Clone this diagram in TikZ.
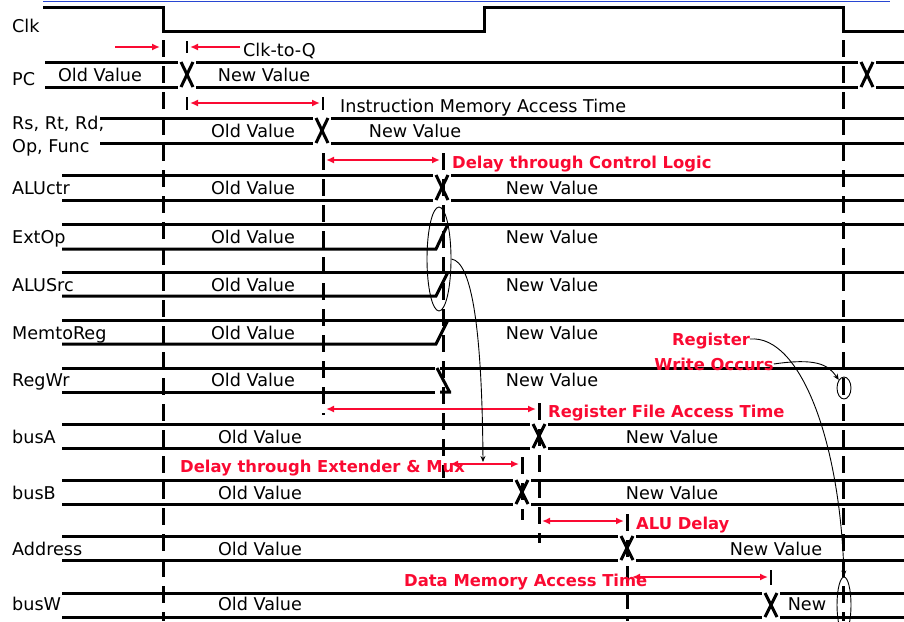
\documentclass[tikz,border=0pt]{standalone}
\usepackage{fontspec}
\setmainfont{DejaVu Sans}
\usepackage{xcolor}
\usetikzlibrary{arrows.meta, shapes.geometric}

\definecolor{delayred}{RGB}{250,10,50}
\definecolor{toprule}{RGB}{40,70,210}

\begin{document}
\begin{tikzpicture}[x=1pt, y=-1pt,
    sig/.style={line width=3pt},
    guide/.style={line width=3pt, dash pattern=on 17pt off 9pt},
    tickmark/.style={line width=2.4pt},
    delay/.style={delayred, line width=2pt, {Latex[length=8pt,width=7pt]}-{Latex[length=8pt,width=7pt]}},
    txt/.style={font=\fontsize{17.6}{17.6}\selectfont, inner sep=0pt, text height=12.6pt, text depth=0pt},
    note/.style={delayred, font=\fontsize{16.4}{16.4}\selectfont\bfseries, inner sep=0pt, text height=12pt, text depth=0pt},
    ring/.style={ellipse, draw, line width=0.9pt, inner sep=0pt},
    pointer/.style={line width=0.9pt, -{Stealth[length=6pt,width=5pt]}}]
  \useasboundingbox (0,0) rectangle (904,621);

  % Top rule and clock
  \draw[toprule, line width=1pt] (43,1) -- (890,1);
  \draw[sig] (43,7) -- (163,7) -- (163,31) -- (484,31) -- (484,7) -- (843,7) -- (843,31) -- (904,31);
  \draw[guide] (163,40) -- (163,621);
  \draw[guide] (843,40) -- (843,621);

  % Signal names
  \foreach \s/\y in {Clk/26, PC/79, ALUctr/188, ExtOp/237, ALUSrc/285, MemtoReg/333, RegWr/380, busA/437, busB/493, Address/549, busW/604}
    \node[txt, anchor=west] (name-\s) at (12,\y) {\s};
  \node[txt, anchor=west] (name-rs) at (12,123) {Rs, Rt, Rd,};
  \node[txt, anchor=west] (name-op) at (12,146) {Op, Func};

  % PC changes twice
  \draw[sig] (45,62) -- (178,62) (45,87) -- (178,87);
  \draw[sig] (196,62) -- (858,62) (196,87) -- (858,87);
  \draw[sig] (876,62) -- (904,62) (876,87) -- (904,87);
  \foreach \xt in {187, 867}
    \draw[sig] (\xt-6,62) -- (\xt+6,87) (\xt-6,87) -- (\xt+6,62);

  % Buses with one change
  \foreach \yt/\yb/\xs/\xt in {118/143/100/322, 175/200/62/442, 424/448/62/539, 480/504/62/522, 536/560/62/627, 593/617/62/771} {
    \draw[sig] (\xs,\yt) -- (\xt-9,\yt) (\xs,\yb) -- (\xt-9,\yb);
    \draw[sig] (\xt-6,\yt) -- (\xt+6,\yb) (\xt-6,\yb) -- (\xt+6,\yt);
    \draw[sig] (\xt+9,\yt) -- (904,\yt) (\xt+9,\yb) -- (904,\yb);
  }

  % Control signals going high
  \foreach \yt/\yb in {224/249, 272/296, 320/344} {
    \draw[sig] (62,\yt) -- (904,\yt);
    \draw[sig] (62,\yb) -- (436,\yb) -- (448,\yt);
  }
  \draw[sig] (62,368) -- (435,368) (440,368) -- (904,368);
  \draw[sig] (62,392) -- (435,392);
  \draw[sig] (437,368) -- (449,391) (440,392) -- (451,392);

  % Values
  \foreach \i/\x/\y in {1/100/75, 2/253/131, 3/253/188, 4/253/237, 5/253/285, 6/253/333, 7/253/380, 8/260/437, 9/260/493, 10/260/549, 11/260/604}
    \node[txt] (old-\i) at (\x,\y) {Old Value};
  \foreach \i/\x/\y in {1/264/75, 2/415/131, 3/552/188, 4/552/237, 5/552/285, 6/552/333, 7/552/380, 8/672/437, 9/672/493, 10/776/549}
    \node[txt] (new-\i) at (\x,\y) {New Value};
  \node[txt] (new-11) at (807,604) {New};

  % Partial guides and ticks
  \foreach \x/\ya/\yb in {323/153/415, 443/153/478, 539/403/543, 522/457/520, 627/514/621}
    \draw[guide] (\x,\ya) -- (\x,\yb);
  \foreach \x/\ya/\yb in {187/41/53, 187/97/110, 323/97/110, 771/570/585}
    \draw[tickmark] (\x,\ya) -- (\x,\yb);

  % Delay arrows
  \draw[delayred, line width=2pt, -{Latex[length=8pt,width=7pt]}] (115,47) -- (160,47);
  \draw[delayred, line width=2pt, -{Latex[length=8pt,width=7pt]}] (240,47) -- (190,47);
  \foreach \xa/\xb/\y in {190/320/103, 326/440/160, 326/536/409, 450/519/464, 542/624/521, 632/768/577}
    \draw[delay] (\xa,\y) -- (\xb,\y);

  % Delay names
  \node[txt, anchor=west] (clkq) at (243,50) {Clk-to-Q};
  \node[txt, anchor=west] (imem) at (340,106) {Instruction Memory Access Time};
  \node[note, anchor=west] (ctrl) at (452,162) {Delay through Control Logic};
  \node[note, anchor=west] (rfile) at (548,411) {Register File Access Time};
  \node[note, anchor=west] (extmux) at (180,466) {Delay through Extender \& Mux};
  \node[note, anchor=west] (aludelay) at (636,523) {ALU Delay};
  \node[note, anchor=west] (dmem) at (404,580) {Data Memory Access Time};
  \node[note] (regw1) at (711,339) {Register};
  \node[note] (regw2) at (714,364) {Write Occurs};

  % Rings and pointers
  \node[ring, minimum width=24, minimum height=104] (ctlring) at (439,259) {};
  \node[ring, minimum width=14, minimum height=22] (wrring) at (844,388) {};
  \node[ring, minimum width=14, minimum height=56] (busring) at (844,605) {};
  \coordinate (muxhit) at (483,462);
  \draw[pointer] (ctlring.east) .. controls (472,262) and (482,330) .. (muxhit);
  \draw[pointer] (regw1.east) .. controls (800,335) and (840,440) .. (busring.north);
  \draw[pointer] (regw2.east) .. controls (815,358) and (828,364) .. (wrring.north west);
\end{tikzpicture}
\end{document}
